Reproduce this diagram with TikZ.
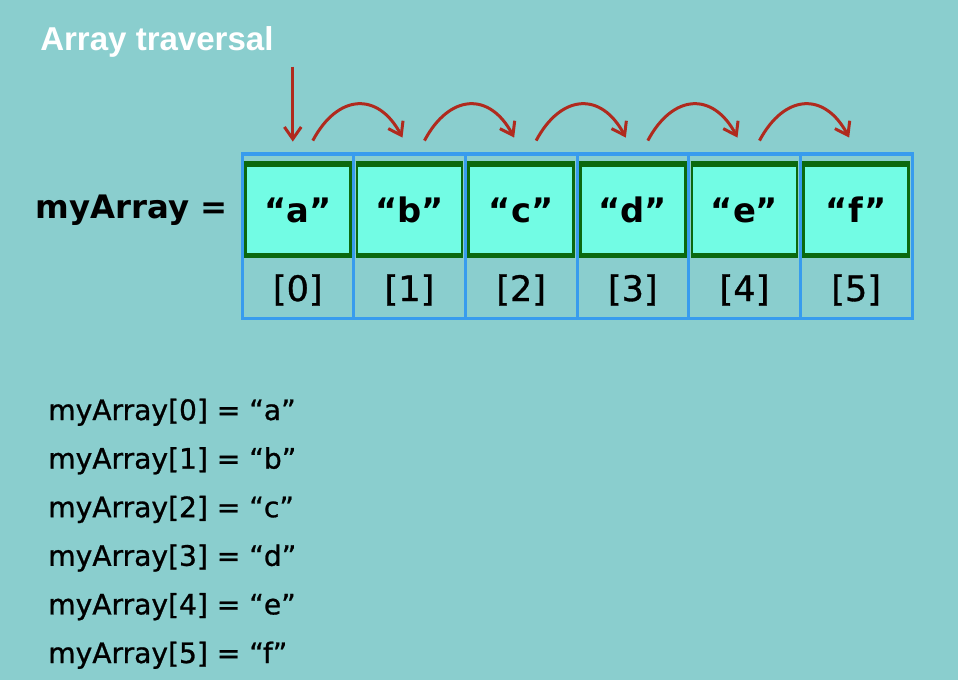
\documentclass[tikz,border=0pt]{standalone}
\usepackage{fontspec}
\setmainfont{DejaVu Sans}
\newfontfamily\titlefont{Liberation Sans}
\newfontfamily\mediumfont[FakeBold=0.9]{DejaVu Sans}
\usetikzlibrary{positioning,calc,arrows.meta}

\definecolor{bgteal}{HTML}{8ACECE}
\definecolor{cellfill}{HTML}{72FCE4}
\definecolor{cellgreen}{HTML}{0B690F}
\definecolor{gridblue}{HTML}{379CEE}
\definecolor{jumpred}{HTML}{B02A1E}

\tikzset{
  cell/.style={draw=cellgreen, fill=cellfill, line width=0.07cm,
    minimum width=2.625cm, minimum height=2.225cm, inner sep=0pt,
    font=\fontsize{24}{24}\selectfont\bfseries},
  index/.style={inner sep=0pt, font=\mediumfont\fontsize{25}{25}\selectfont},
  jump/.style={jumpred, line width=0.075cm, -{Straight Barb[length=0.3cm,width=0.42cm]}},
  listline/.style={anchor=base west, inner sep=0pt, font=\mediumfont\fontsize{20}{20}\selectfont}
}

\begin{document}
\begin{tikzpicture}[x=0.025cm,y=0.025cm]
\fill[bgteal] (0,0) rectangle (958,680);
\useasboundingbox (0,0) rectangle (958,680);

\node[anchor=base west, inner sep=0pt, text=white,
  font=\titlefont\fontsize{23.5}{23.5}\selectfont\bfseries] (title) at (40,629) {Array traversal};

\draw[gridblue, line width=0.075cm] (242,362) rectangle (912,526);
\foreach \k in {1,...,5}
\draw[gridblue, line width=0.075cm] (242+111.67*\k,362) -- (242+111.67*\k,526);

\foreach \v [count=\i from 0] in {a,b,c,d,e,f} {
  \node[cell] (c\i) at (297.8+111.67*\i,470) {“\v”};
  \draw[cellgreen, line width=0.15cm] (c\i.north west) -- (c\i.north east);
  \draw[cellgreen, line width=0.125cm] (c\i.south west) -- (c\i.south east);
  \node[index] (i\i) at (297.8+111.67*\i,390) {[\i]};
}

\node[left=0.4cm of c0, inner sep=0pt, font=\fontsize{23}{23}\selectfont\bfseries] (name) {myArray =};

\coordinate (start) at ($(c0.north)+(-5,97.5)$);
\coordinate (enter) at ($(c0.north)+(-5,22.5)$);
\draw[jump] (start) -- (enter);
\foreach \i in {0,...,4} {
  \pgfmathtruncatemacro{\j}{\i+1}
  \coordinate (from\i) at ($(c\i.north)+(15,23.5)$);
  \coordinate (to\i) at ($(c\j.north)+(-7,26.5)$);
  \draw[jump] (from\i) to[out=62,in=118,looseness=1.5] (to\i);
}

\foreach \i/\v in {0/a,1/b,2/c,3/d,4/e,5/f}
\node[listline] (l\i) at (48,260-48.6*\i) {myArray[\i] = “\v”};
\end{tikzpicture}
\end{document}
